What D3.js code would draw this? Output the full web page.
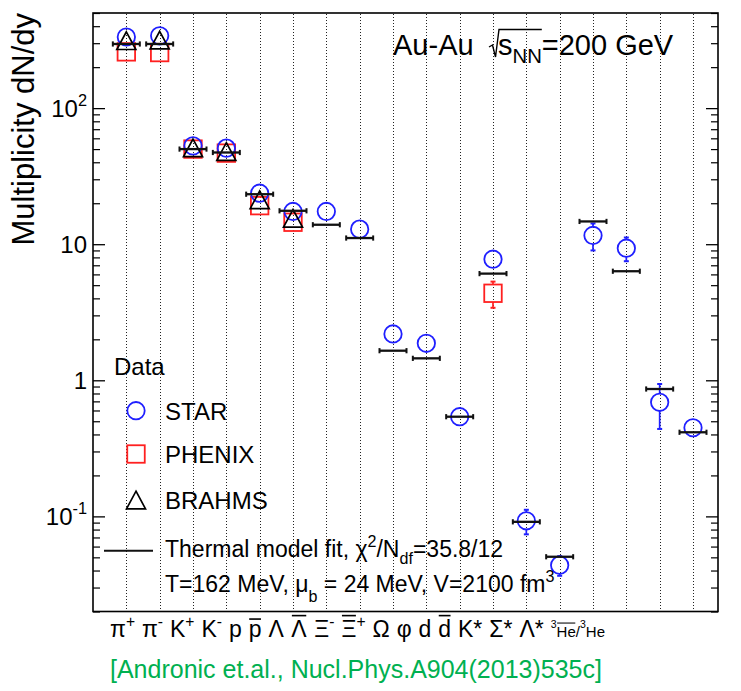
<!DOCTYPE html>
<html><head><meta charset="utf-8">
<script src="https://cdn.jsdelivr.net/npm/d3@7"></script>
<style>
html,body{margin:0;padding:0;background:#fff;}
svg{display:block;}
text{font-family:"Liberation Sans",Arial,Helvetica,sans-serif;fill:#000;}
</style>
</head><body>
<svg id="chart" width="741" height="691"></svg>
<script>
// ---------------- data ----------------
const categories = ["π^{+}","π^{-}","K^{+}","K^{-}","p","#bar{p}","Λ","#bar{Λ}","Ξ^{-}","#bar{Ξ}^{+}","Ω","φ","d","#bar{d}","K*","Σ*","Λ*","^{3}#bar{He}/^{3}He"];
const starValues   = [333, 340, 52.8, 50.8, 23.7, 17.4, 17.4, 12.9, 2.19, 1.87, 0.54, 7.76, 0.0928, 0.0438, 11.6, 9.35, 0.689, 0.448];
const starErrors   = [10, 10, 2, 2, 1, 1, 1, 0.8, 0.15, 0.12, 0.03, 0.5, 0.019, 0.0072, 2.6, 1.85, 0.25, 0.03];
const phenixValues = [259, 256, 50, 46.7, 19.2, 14.5, null, null, null, null, null, 4.36, null, null, null, null, null, null];
const phenixErrors = [10, 10, 2, 2, 1, 1, null, null, null, null, null, 0.95, null, null, null, null, null, null];
const brahmsValues = [313, 316, 51, 48, 21.2, 15.5, null, null, null, null, null, null, null, null, null, null, null, null];
const thermalFit   = [296, 296, 50, 47.2, 23.3, 17.6, 13.9, 11.1, 1.65, 1.45, 0.54, 6.08, 0.0912, 0.0505, 14.7, 6.33, 0.863, 0.415];
const yMajorTicks  = [0.1, 1, 10, 100];
const yMajorLabels = ["10^{-1}", "1", "10", "10^{2}"];
const legendNames  = ["STAR", "PHENIX", "BRAHMS"];
const headerText   = "Au-Au";
const energyText   = "s_{NN}=200 GeV";
const fitLine1     = "Thermal model fit, χ^{2}/N_{df}=35.8/12";
const fitLine2     = "T=162 MeV, μ_{b} = 24 MeV, V=2100 fm^{3}";
const yTitle       = "Multiplicity dN/dy";
const citation     = "[Andronic et.al., Nucl.Phys.A904(2013)535c]";

// ---------------- layout ----------------
const svg = d3.select("#chart");
const L = 93, R = 718, T = 13, B = 611.5;
const x = d3.scaleLinear().domain([-1, 17.75]).range([L, R]);
const y = d3.scaleLog().domain([0.02, 500]).range([B, T]);
const BLUE = "#1f1fff", RED = "#ff2020", BLACK = "#111";

// rich text helper (^{} sup, _{} sub, #bar{} overline)
function parseRich(s){
  const segs=[]; let i=0, buf='';
  const flush=()=>{ if(buf){segs.push({t:buf,mode:'n',bar:false}); buf='';} };
  while(i<s.length){
    if(s.startsWith('#bar{',i)){ flush(); const j=s.indexOf('}',i); segs.push({t:s.slice(i+5,j),mode:'n',bar:true}); i=j+1; }
    else if((s[i]==='^'||s[i]==='_') && s[i+1]==='{'){ flush(); const j=s.indexOf('}',i); segs.push({t:s.slice(i+2,j),mode:s[i]==='^'?'sup':'sub',bar:false}); i=j+1; }
    else { buf+=s[i]; i++; }
  }
  flush(); return segs;
}
function richText(parent, str, xx, yy, fs, opts={}){
  const supScale=opts.supScale||0.7, supShift=opts.supShift||0.42, subShift=opts.subShift||0.3;
  const t=parent.append('text').attr('x',xx).attr('y',yy).attr('font-size',fs);
  if(opts.anchor) t.attr('text-anchor',opts.anchor);
  if(opts.fill) t.style('fill',opts.fill);
  if(opts.transform) t.attr('transform',opts.transform);
  const segs=parseRich(str); let cur=0, idx=0; const bars=[];
  segs.forEach(sg=>{
    const target = sg.mode==='sup' ? -supShift*fs : sg.mode==='sub' ? subShift*fs : 0;
    const ts=t.append('tspan').text(sg.t).attr('dy', target-cur);
    if(sg.mode!=='n') ts.attr('font-size', fs*supScale);
    cur=target;
    if(sg.bar) bars.push([idx, sg.t.length, sg.t]);
    idx+=sg.t.length;
  });
  const node=t.node();
  bars.forEach(([s,n,txt])=>{
    const x0=node.getStartPositionOfChar(s).x, x1=node.getEndPositionOfChar(s+n-1).x;
    const low=/^[acegmnopqrsuvwxyz]+$/.test(txt);
    const ly=yy-(low?0.78:0.93)*fs;
    parent.append('line').attr('x1',x0+0.5).attr('x2',x1-0.5).attr('y1',ly).attr('y2',ly)
      .attr('stroke','#000').attr('stroke-width',Math.max(1,fs*0.07));
  });
  return t;
}

// grid (dotted verticals) via axis
svg.append('g').attr('transform',`translate(0,${B})`)
  .call(d3.axisBottom(x).tickValues(d3.range(categories.length)).tickSize(-(B-T)).tickFormat(''))
  .call(g=>g.select('.domain').remove())
  .call(g=>g.selectAll('line').attr('stroke','#222').attr('stroke-width',1)
     .attr('stroke-dasharray','1,2').attr('shape-rendering','crispEdges'));

// y ticks (left and right, inward)
const minorTicks=[];
[0.01,0.1,1,10,100].forEach(d=>{ for(let k=2;k<=9;k++){ const v=d*k; if(v>=0.02&&v<=500) minorTicks.push(v);} });
function yAxes(xpos, gen){
  svg.append('g').attr('transform',`translate(${xpos},0)`)
    .call(gen(y).tickValues(yMajorTicks).tickSize(12).tickFormat(''))
    .call(g=>g.select('.domain').remove())
    .call(g=>g.selectAll('line').attr('stroke','#000').attr('stroke-width',1.3));
  svg.append('g').attr('transform',`translate(${xpos},0)`)
    .call(gen(y).tickValues(minorTicks).tickSize(7).tickFormat(''))
    .call(g=>g.select('.domain').remove())
    .call(g=>g.selectAll('line').attr('stroke','#000').attr('stroke-width',1.2));
}
yAxes(L, d3.axisRight);
yAxes(R, d3.axisLeft);

// frame
svg.append('rect').attr('x',L).attr('y',T).attr('width',R-L).attr('height',B-T)
  .attr('fill','none').attr('stroke','#000').attr('stroke-width',1.6);

// y tick labels
yMajorTicks.forEach((v,i)=>richText(svg, yMajorLabels[i], 87, y(v)+8.5, 24, {anchor:'end', supShift:0.45, supScale:0.68}));

// y title
richText(svg, yTitle, 0, 0, 31, {anchor:'end', transform:`translate(34,${T}) rotate(-90)`});

// markers
const R0 = 8.7;
const gData = svg.append('g');
function errBars(vals, errs, color, half){
  vals.forEach((v,i)=>{
    if(v==null||!errs[i]) return;
    const cx=x(i), cy=y(v), yt=y(v+errs[i]), yb=y(Math.max(v-errs[i],1e-6));
    const seg=(a,b)=>gData.append('line').attr('x1',cx).attr('x2',cx).attr('y1',a).attr('y2',b).attr('stroke',color).attr('stroke-width',1.7);
    const cap=(a)=>gData.append('line').attr('x1',cx-2.5).attr('x2',cx+2.5).attr('y1',a).attr('y2',a).attr('stroke',color).attr('stroke-width',2);
    if(cy-half>yt){ seg(cy-half,yt); cap(yt); }
    if(yb>cy+half){ seg(cy+half,yb); cap(yb); }
  });
}
const sq = 17.5;
gData.selectAll('rect.phenix').data(phenixValues.map((v,i)=>({v,i})).filter(d=>d.v!=null)).join('rect')
  .attr('x',d=>x(d.i)-sq/2).attr('y',d=>y(d.v)-sq/2).attr('width',sq).attr('height',sq)
  .attr('fill','none').attr('stroke',RED).attr('stroke-width',1.8);
errBars(phenixValues, phenixErrors, RED, sq/2);
gData.selectAll('circle.star').data(starValues.map((v,i)=>({v,i}))).join('circle')
  .attr('cx',d=>x(d.i)).attr('cy',d=>y(d.v)).attr('r',R0)
  .attr('fill','none').attr('stroke',BLUE).attr('stroke-width',1.8);
errBars(starValues, starErrors, BLUE, R0);
const triPath=(cx,cy)=>`M${cx},${cy-8.8}L${cx+9.5},${cy+8.8}L${cx-9.5},${cy+8.8}Z`;
gData.selectAll('path.brahms').data(brahmsValues.map((v,i)=>({v,i})).filter(d=>d.v!=null)).join('path')
  .attr('d',d=>triPath(x(d.i),y(d.v)))
  .attr('fill','none').attr('stroke','#000').attr('stroke-width',1.7);

// thermal fit bars
thermalFit.forEach((v,i)=>{
  const cx=x(i), cy=y(v), hw=13.5;
  gData.append('line').attr('x1',cx-hw).attr('x2',cx+hw).attr('y1',cy).attr('y2',cy).attr('stroke',BLACK).attr('stroke-width',2.3);
  [cx-hw,cx+hw].forEach(ex=>gData.append('line').attr('x1',ex).attr('x2',ex).attr('y1',cy-2.6).attr('y2',cy+2.6).attr('stroke',BLACK).attr('stroke-width',2));
});

// header
svg.append('text').attr('x',393).attr('y',55).attr('font-size',29).text(headerText);
const eT = richText(svg, energyText, 498, 55, 29, {subShift:0.28, supScale:0.7});
const nnEnd = eT.node().getEndPositionOfChar(2).x;
svg.append('path').attr('d',`M489,47 L492.5,45 L495.5,57 L499,29.5 H${nnEnd}`)
  .attr('fill','none').attr('stroke','#000').attr('stroke-width',1.4);

// legend
svg.append('text').attr('x',114).attr('y',375).attr('font-size',24).text('Data');
const legY=[410.7,454,500];
svg.append('circle').attr('cx',136).attr('cy',legY[0]).attr('r',R0).attr('fill','none').attr('stroke',BLUE).attr('stroke-width',1.8);
svg.append('rect').attr('x',136-sq/2).attr('y',legY[1]-sq/2).attr('width',sq).attr('height',sq).attr('fill','none').attr('stroke',RED).attr('stroke-width',1.8);
svg.append('path').attr('d',triPath(136,legY[2])).attr('fill','none').attr('stroke','#000').attr('stroke-width',1.7);
legendNames.forEach((n,i)=>svg.append('text').attr('x',165).attr('y',legY[i]+9.2).attr('font-size',24).text(n));
svg.append('line').attr('x1',104).attr('x2',153).attr('y1',550.7).attr('y2',550.7).attr('stroke',BLACK).attr('stroke-width',2);
richText(svg, fitLine1, 165, 557, 23, {supShift:0.42, subShift:0.3});
richText(svg, fitLine2, 165, 592, 23, {supShift:0.42, subShift:0.45});

// x labels row (flowing)
const rowL=110, rowR=605, rowY=637;
const row=svg.append('g');
const groups=categories.map((c,i)=>{
  const g=row.append('g');
  const last=i===categories.length-1;
  richText(g, c, 0, 0, last?15:23, last?{supShift:0.6, supScale:0.7}:{supShift:0.42, supScale:0.68});
  const bb=g.node().getBBox();
  return {g, w:bb.width, x0:bb.x};
});
const sumW=d3.sum(groups,d=>d.w);
const gap=(rowR-rowL-sumW)/(groups.length-1);
let cursor=rowL;
groups.forEach(d=>{ d.g.attr('transform',`translate(${cursor-d.x0},${rowY})`); cursor+=d.w+gap; });

// citation
svg.append('text').attr('x',110).attr('y',678).attr('font-size',25).style('fill','#00b050').text(citation);
</script>
</body></html>
